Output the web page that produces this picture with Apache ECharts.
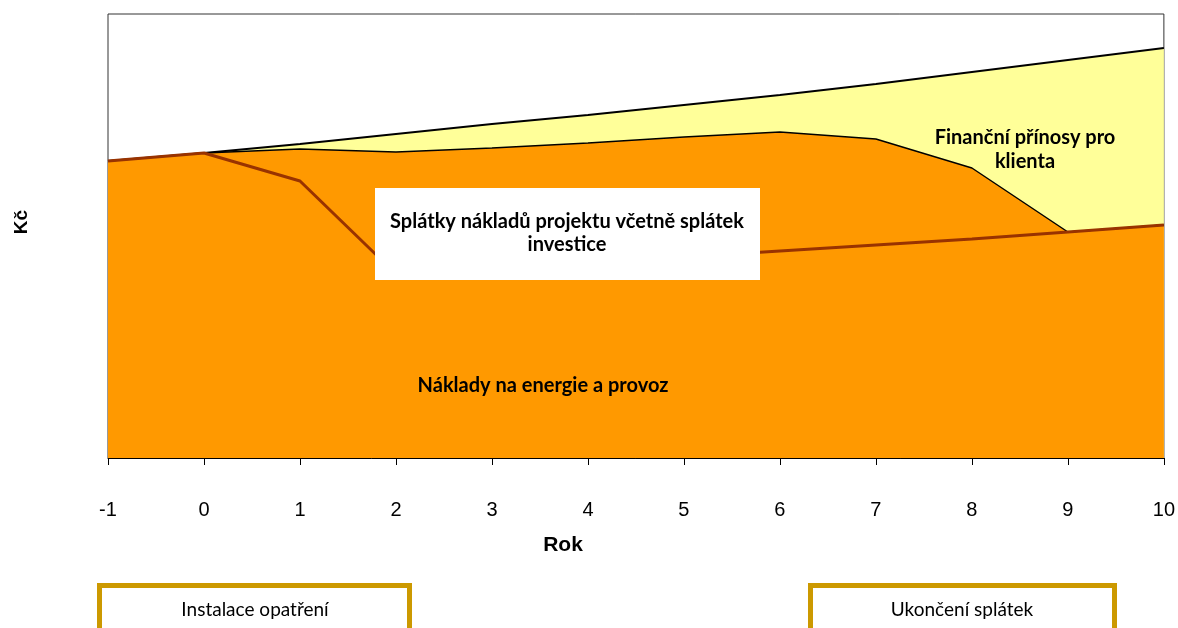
<!DOCTYPE html>
<html>
<head>
<meta charset="utf-8">
<script src="https://cdn.jsdelivr.net/npm/echarts@6/dist/echarts.min.js"></script>
<style>
html, body { margin: 0; padding: 0; background: #fff; }
#chart { width: 1178px; height: 628px; }
</style>
</head>
<body>
<div id="chart"></div>
<script>
// roky
var years = [-1, 0, 1, 2, 3, 4, 5, 6, 7, 8, 9, 10]
// horní hranice - finanční přínosy pro klienta
var prinosy = [297, 305, 314, 324, 334, 343, 353, 363, 374, 386, 398, 410]
// splátky nákladů projektu včetně splátek investice
var splatky = [297, 305, 309, 306, 310, 315, 321, 326, 319, 290, 226, 233]
// náklady na energie a provoz
var naklady = [297, 305, 277, 184, 190, 195, 201, 207, 213, 219, 226, 233]

var pairs = function(vals) {
    return years.map(function(y, i) { return [y, vals[i]] })
}

var chart = echarts.init(document.getElementById('chart'))
var labelFont = 'Lato, "Noto Sans", sans-serif'

chart.setOption({
    animation: false,
    grid: {
        left: 108, top: 14, right: 13, bottom: 170,
        show: true, borderColor: '#333', borderWidth: 1
    },
    xAxis: {
        type: 'value', min: -1, max: 10, interval: 1,
        axisLine: { lineStyle: { color: '#000', width: 1 } },
        axisTick: { inside: false, length: 7, lineStyle: { color: '#000' } },
        axisLabel: { color: '#000', fontSize: 20, fontFamily: '"Liberation Sans", Arial', margin: 42 },
        splitLine: { show: false }
    },
    yAxis: {
        type: 'value', min: 0, max: 444,
        axisLine: { show: false }, axisTick: { show: false },
        axisLabel: { show: false }, splitLine: { show: false }
    },
    series: [
        {
            type: 'line', data: pairs(prinosy), symbol: 'none', z: 2,
            lineStyle: { color: '#000', width: 2 },
            areaStyle: { color: '#FFFF99', opacity: 1 }
        },
        {
            type: 'line', data: pairs(splatky), symbol: 'none', z: 3,
            lineStyle: { color: '#000', width: 1.5 },
            areaStyle: { color: '#FF9900', opacity: 1 }
        },
        {
            type: 'line', data: pairs(naklady), symbol: 'none', z: 4,
            lineStyle: { color: '#993300', width: 3 }
        }
    ],
    graphic: [
        {
            type: 'rect', z: 100,
            shape: { x: 375, y: 188, width: 385, height: 92 },
            style: { fill: '#fff' }
        },
        {
            type: 'text', z: 101, x: 567, y: 233,
            style: {
                text: 'Splátky nákladů projektu včetně splátek\ninvestice',
                font: 'bold 20px ' + labelFont, fill: '#000',
                textAlign: 'center', textVerticalAlign: 'middle', lineHeight: 23
            }
        },
        {
            type: 'text', z: 101, x: 1025, y: 150,
            style: {
                text: 'Finanční přínosy pro\nklienta',
                font: 'bold 20px ' + labelFont, fill: '#000',
                textAlign: 'center', textVerticalAlign: 'middle', lineHeight: 24
            }
        },
        {
            type: 'text', z: 101, x: 543, y: 386,
            style: {
                text: 'Náklady na energie a provoz',
                font: 'bold 20px ' + labelFont, fill: '#000',
                textAlign: 'center', textVerticalAlign: 'middle'
            }
        },
        {
            type: 'text', z: 101, x: 563, y: 545,
            style: {
                text: 'Rok', font: 'bold 21px "Liberation Sans", Arial', fill: '#000',
                textAlign: 'center', textVerticalAlign: 'middle'
            }
        },
        {
            type: 'text', z: 101, x: 22, y: 222, rotation: Math.PI / 2,
            style: {
                text: 'Kč', font: 'bold 19px "Liberation Sans", Arial', fill: '#000',
                textAlign: 'center', textVerticalAlign: 'middle'
            }
        },
        {
            type: 'rect', z: 100,
            shape: { x: 99.5, y: 585.5, width: 310, height: 70 },
            style: { fill: '#fff', stroke: '#CC9900', lineWidth: 5 }
        },
        {
            type: 'text', z: 101, x: 255, y: 610,
            style: {
                text: 'Instalace opatření', font: '19px ' + labelFont, fill: '#000',
                textAlign: 'center', textVerticalAlign: 'middle'
            }
        },
        {
            type: 'rect', z: 100,
            shape: { x: 810.5, y: 585.5, width: 304, height: 70 },
            style: { fill: '#fff', stroke: '#CC9900', lineWidth: 5 }
        },
        {
            type: 'text', z: 101, x: 962, y: 610,
            style: {
                text: 'Ukončení splátek', font: '19px ' + labelFont, fill: '#000',
                textAlign: 'center', textVerticalAlign: 'middle'
            }
        }
    ]
})
</script>
</body>
</html>
